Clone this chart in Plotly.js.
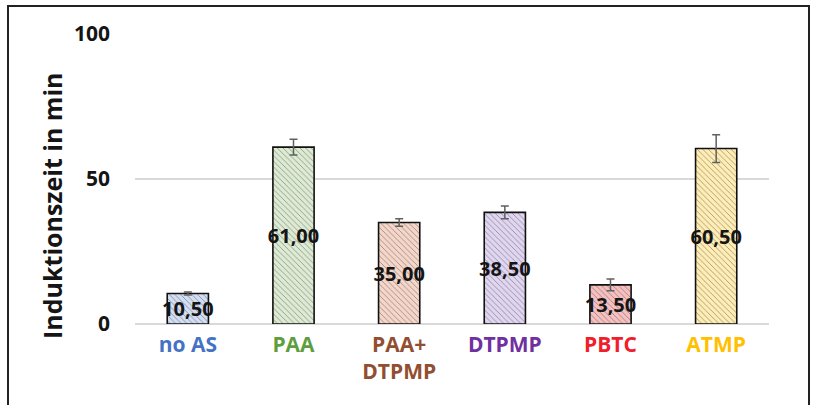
<!DOCTYPE html>
<html>
<head>
<meta charset="utf-8">
<script src="https://cdn.plot.ly/plotly-3.0.1.min.js"></script>
<style>
  html, body { margin: 0; padding: 0; background: #fff; }
  #frame { position: absolute; left: 7px; top: 5px; width: 803px; height: 440px; border: 2px solid #222; box-sizing: border-box; pointer-events: none; }
  #chart { position: absolute; left: 0; top: 0; width: 820px; height: 405px; }
</style>
</head>
<body>
<div id="chart"></div>
<div id="frame"></div>
<script>
const categories = ["no AS", "PAA", "PAA+<br>DTPMP", "DTPMP", "PBTC", "ATMP"];
const values = [10.5, 61.0, 35.0, 38.5, 13.5, 60.5];
const errors = [0.5, 2.7, 1.3, 2.2, 2.0, 4.8];
const labelColors = ["#4472C4", "#5E9E3E", "#924E30", "#7030A0", "#F0202A", "#FFC000"];
const fillColors = ["#D2DEF3", "#DDEBD3", "#F5D6C9", "#E1D6F2", "#F7C0C0", "#FFEDB3"];
const hatchColors = ["#7A96CE", "#88B470", "#BC8670", "#9B82C8", "#DA6464", "#EBC24E"];
const yTicks = [0, 50, 100];
const yTitle = "Induktionszeit in min";

const x = categories.map((c, i) => i);
const ticktext = categories.map((c, i) =>
  `<span style="color:${labelColors[i]}">${c}</span>`);

const trace = {
  type: "bar",
  x: x,
  y: values,
  width: 0.39,
  marker: {
    color: fillColors,
    line: { color: "#111", width: 1.6 },
    pattern: { shape: "\\", fgcolor: hatchColors, size: 4, solidity: 0.22, fillmode: "overlay" }
  },
  error_y: { type: "data", array: errors, visible: true, color: "#606060", thickness: 1.5, width: 4 },
  texttemplate: "%{y:.2f}",
  textposition: "inside",
  insidetextanchor: "middle",
  textangle: 0,
  constraintext: "none",
  cliponaxis: false,
  textfont: { family: "Open Sans", size: 20, color: "#151515", weight: "bold" },
  hoverinfo: "none"
};

const layout = {
  width: 820, height: 405,
  margin: { l: 135, r: 51, t: 34, b: 81 },
  paper_bgcolor: "rgba(0,0,0,0)",
  plot_bgcolor: "#fff",
  separators: ",.",
  showlegend: false,
  font: { family: "Open Sans", weight: "bold" },
  xaxis: {
    range: [-0.5, 5.5],
    tickvals: x,
    ticktext: ticktext,
    tickfont: { family: "Open Sans", size: 21, weight: "bold" },
    showgrid: false, zeroline: false, showline: false,
    ticks: "", ticklabelstandoff: 6,
    fixedrange: true
  },
  yaxis: {
    range: [0, 100],
    tickvals: yTicks,
    tickfont: { family: "Open Sans", size: 21, color: "#151515", weight: "bold" },
    showgrid: true, gridcolor: "#D9D9D9", gridwidth: 1.3,
    zeroline: true, zerolinecolor: "#D9D9D9", zerolinewidth: 1.3,
    ticks: "", ticklabelstandoff: 24,
    fixedrange: true
  },
  annotations: [{
    text: yTitle, textangle: -90, showarrow: false,
    xref: "paper", yref: "paper", x: -0.131, y: 0.407,
    xanchor: "center", yanchor: "middle",
    font: { family: "Open Sans", size: 25, color: "#151515", weight: "bold" }
  }]
};

Plotly.newPlot("chart", [trace], layout, { staticPlot: true, displayModeBar: false });
</script>
</body>
</html>
